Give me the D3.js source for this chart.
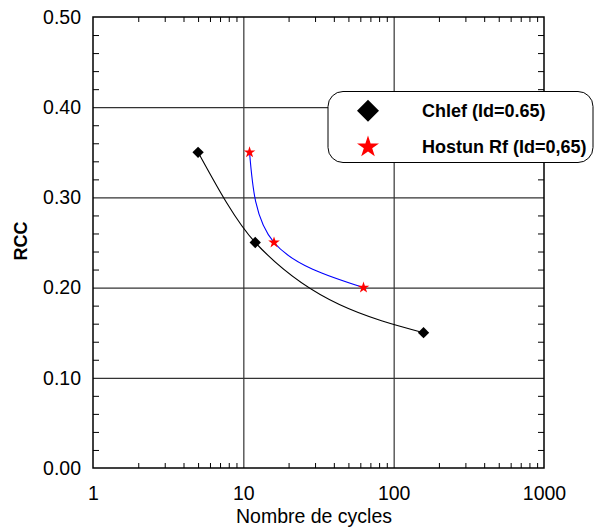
<!DOCTYPE html>
<html>
<head>
<meta charset="utf-8">
<script src="https://cdn.jsdelivr.net/npm/d3@7"></script>
<style>
  html, body { margin: 0; padding: 0; background: #fff; }
  svg { display: block; }
  text { font-family: Arial, "Liberation Sans", sans-serif; }
</style>
</head>
<body>
<svg id="chart" width="594" height="529"></svg>
<script>
// ---- data ----
const chlefCycles = [5, 12, 158];
const chlefRCC = [0.35, 0.25, 0.15];
const hostunCycles = [11, 16, 63];
const hostunRCC = [0.35, 0.25, 0.20];
const seriesNames = ["Chlef (Id=0.65)", "Hostun Rf (Id=0,65)"];
const xTickLabels = [1, 10, 100, 1000];
const yTickLabels = [0, 0.1, 0.2, 0.3, 0.4, 0.5];
const xGrid = [10, 100];
const yGrid = [0.1, 0.2, 0.3, 0.4];
const xMinor = [2,3,4,5,6,7,8,9,20,30,40,50,60,70,80,90,200,300,400,500,600,700,800,900];
const yMinor = d3.range(0.02, 0.5, 0.02).filter(v => Math.abs(v*10 - Math.round(v*10)) > 1e-6);

// ---- layout ----
const L = 93, R = 544, T = 17, B = 468;
const svg = d3.select("#chart");
const x = d3.scaleLog().domain([1, 1000]).range([L, R]);
const y = d3.scaleLinear().domain([0, 0.5]).range([B, T]);

// grid
svg.append("g").attr("transform", `translate(0,${B})`)
  .call(d3.axisBottom(x).tickValues(xGrid).tickSize(-(B - T)).tickFormat(""))
  .call(g => g.select(".domain").remove())
  .call(g => g.selectAll("line").attr("stroke", "#333").attr("stroke-width", 1.2));
svg.append("g").attr("transform", `translate(${L},0)`)
  .call(d3.axisLeft(y).tickValues(yGrid).tickSize(-(R - L)).tickFormat(""))
  .call(g => g.select(".domain").remove())
  .call(g => g.selectAll("line").attr("stroke", "#333").attr("stroke-width", 1.2));

// minor ticks (inward)
function minor(g) { g.select(".domain").remove(); g.selectAll("line").attr("stroke", "#000").attr("stroke-width", 1); }
svg.append("g").attr("transform", `translate(0,${B})`)
  .call(d3.axisBottom(x).tickValues(xMinor).tickSize(-5).tickFormat("")).call(minor);
svg.append("g").attr("transform", `translate(0,${T})`)
  .call(d3.axisTop(x).tickValues(xMinor).tickSize(-5).tickFormat("")).call(minor);
svg.append("g").attr("transform", `translate(${L},0)`)
  .call(d3.axisLeft(y).tickValues(yMinor).tickSize(-6).tickFormat("")).call(minor);
svg.append("g").attr("transform", `translate(${R},0)`)
  .call(d3.axisRight(y).tickValues(yMinor).tickSize(-6).tickFormat("")).call(minor);

// tick labels
svg.append("g").attr("transform", `translate(0,${B})`)
  .call(d3.axisBottom(x).tickValues(xTickLabels).tickSize(0).tickPadding(18).tickFormat(d3.format("d")))
  .call(g => g.select(".domain").remove())
  .call(g => g.selectAll("text").attr("font-size", 19.5).attr("fill", "#000").attr("font-family", "Arial, 'Liberation Sans', sans-serif"));
svg.append("g").attr("transform", `translate(${L},0)`)
  .call(d3.axisLeft(y).tickValues(yTickLabels).tickSize(0).tickPadding(12).tickFormat(d3.format(".2f")))
  .call(g => g.select(".domain").remove())
  .call(g => g.selectAll("text").attr("font-size", 19.5).attr("fill", "#000").attr("font-family", "Arial, 'Liberation Sans', sans-serif"));

// frame
svg.append("rect").attr("x", L).attr("y", T).attr("width", R - L).attr("height", B - T)
  .attr("fill", "none").attr("stroke", "#000").attr("stroke-width", 1.5);

// axis titles
svg.append("text").attr("x", 314).attr("y", 523).attr("text-anchor", "middle")
  .attr("font-size", 19.5).text("Nombre de cycles");
svg.append("text").attr("transform", "translate(27,241) rotate(-90)").attr("text-anchor", "middle")
  .attr("font-size", 18).attr("font-weight", "bold").text("RCC");

// curves
const chlef = chlefCycles.map((c, i) => ({c, r: chlefRCC[i]}));
const hostun = hostunCycles.map((c, i) => ({c, r: hostunRCC[i]}));
svg.append("path").datum(chlef)
  .attr("d", d3.line().x(d => x(d.c)).y(d => y(d.r)).curve(d3.curveMonotoneX))
  .attr("fill", "none").attr("stroke", "#000").attr("stroke-width", 1.1);
svg.append("path").datum(hostun)
  .attr("d", d3.line().x(d => x(d.c)).y(d => y(d.r)).curve(d3.curveNatural))
  .attr("fill", "none").attr("stroke", "#0000ff").attr("stroke-width", 1.1);

// markers
const diamond = d3.symbol().type(d3.symbolSquare);
const star = d3.symbol().type(d3.symbolStar);
svg.append("g").selectAll("path").data(chlef).join("path")
  .attr("transform", d => `translate(${x(d.c)},${y(d.r)}) rotate(45)`)
  .attr("d", diamond.size(64)()).attr("fill", "#000");
svg.append("g").selectAll("path").data(hostun).join("path")
  .attr("transform", d => `translate(${x(d.c)},${y(d.r)})`)
  .attr("d", star.size(42)()).attr("fill", "#ff0000");

// legend
const lg = svg.append("g");
lg.append("rect").attr("x", 328).attr("y", 91.5).attr("width", 265).attr("height", 71).attr("rx", 15)
  .attr("fill", "#fff").attr("stroke", "#000").attr("stroke-width", 1);
lg.append("path").attr("transform", "translate(368,110.7) rotate(45)")
  .attr("d", d3.symbol().type(d3.symbolSquare).size(242)()).attr("fill", "#000");
lg.append("path").attr("transform", "translate(368,147)")
  .attr("d", d3.symbol().type(d3.symbolStar).size(150)()).attr("fill", "#ff0000");
lg.append("text").attr("x", 422).attr("y", 116.5).attr("font-size", 18).attr("font-weight", "bold").text(seriesNames[0]);
lg.append("text").attr("x", 422).attr("y", 152.7).attr("font-size", 18).attr("font-weight", "bold").text(seriesNames[1]);
</script>
</body>
</html>
